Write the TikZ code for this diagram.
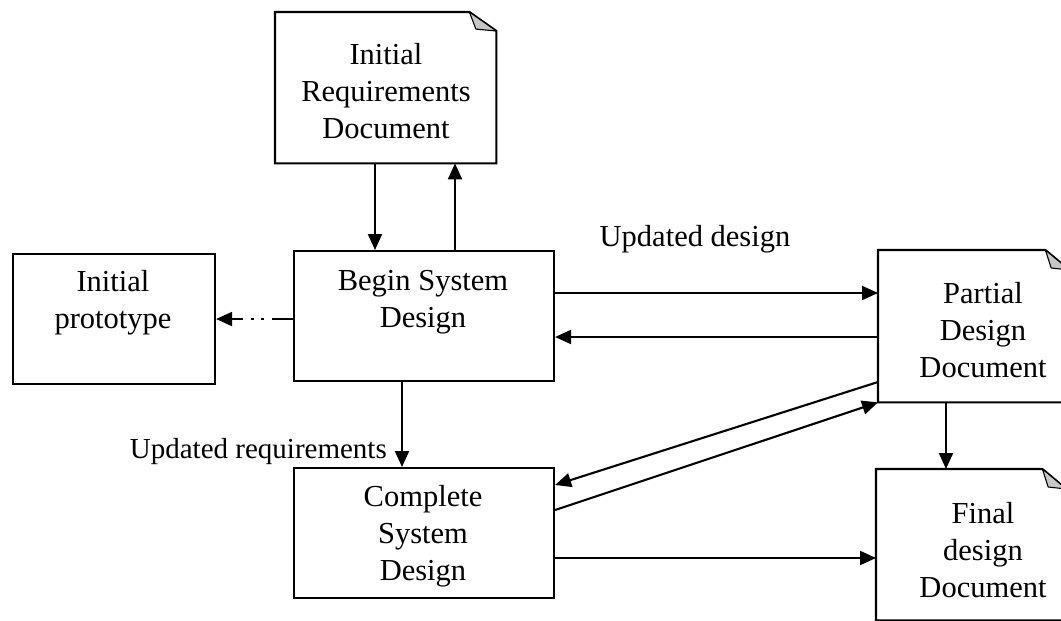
\documentclass[tikz,border=0pt]{standalone}
\usepackage{fontspec}
\setmainfont{Liberation Serif}
\usetikzlibrary{arrows.meta,calc}
\begin{document}
\begin{tikzpicture}[x=1pt,y=-1pt,
  frame/.style={draw, line width=2.1pt, inner sep=0pt, anchor=north west},
  page/.style={inner sep=0pt, anchor=north west},
  txt/.style={font=\fontsize{30.5}{37}\selectfont, align=center, inner sep=0pt, anchor=base},
  lbl/.style={inner sep=0pt, anchor=base},
  outline/.style={line width=2.1pt, line join=miter},
  fold/.style={fill=black!22, draw, line width=1.1pt, line join=round},
  arr/.style={line width=2.1pt, -{Triangle[length=16pt,width=14pt]}},
  dotarr/.style={arr, dash pattern=on 21pt off 8pt on 3pt off 7pt on 3pt off 8pt}]
\useasboundingbox (0,0) rectangle (1061,621);

% plain boxes
\node[frame, minimum width=202pt, minimum height=130pt] (ip)  at (12,253)  {};
\node[frame, minimum width=260pt, minimum height=130pt] (bsd) at (293,250) {};
\node[frame, minimum width=260pt, minimum height=130pt] (csd) at (293,467) {};

% documents (page with a folded corner)
\node[page, minimum width=221pt, minimum height=151pt] (ird) at (275,12)  {};
\node[page, minimum width=191pt, minimum height=152pt] (pdd) at (878,250) {};
\node[page, minimum width=190pt, minimum height=151pt] (fdd) at (876,469) {};

\foreach \d/\fw/\fh in {ird/27/19, pdd/24/20, fdd/24/20}{
  \draw[outline] (\d.north west) -- ([xshift=-\fw pt]\d.north east)
    -- ([yshift=-\fh pt]\d.north east) -- (\d.south east) -- (\d.south west) -- cycle;
  \draw[fold] ([xshift=-\fw pt]\d.north east)
    -- ([xshift=-0.76*\fw pt, yshift=-0.9*\fh pt]\d.north east)
    -- ([yshift=-\fh pt]\d.north east) -- cycle;
}

% texts (placed by the baseline of their last line)
\node[txt] (irdtext) at (386,138) {Initial\\Requirements\\Document};
\node[txt] (iptext)  at (113,328) {Initial\\prototype};
\node[txt] (bsdtext) at (423,327) {Begin System\\Design};
\node[txt] (csdtext) at (423,580) {Complete\\System\\Design};
\node[txt] (pddtext) at (983,377) {Partial\\Design\\Document};
\node[txt] (fddtext) at (983,597) {Final\\design\\Document};

\node[lbl, font=\fontsize{30.5}{37}\selectfont] (ldesign) at (695,246) {Updated design};
\node[lbl, font=\fontsize{29}{35}\selectfont, anchor=base east] (lreq) at (387,458) {Updated requirements};

% connectors
\draw[arr] ([xshift=100pt]ird.south west) -- ([xshift=100pt]ird.south west |- bsd.north);
\draw[arr] ([xshift=162pt]bsd.north west) -- ([xshift=162pt]bsd.north west |- ird.south);
\draw[dotarr] ([yshift=-3pt]bsd.west) -- ([yshift=-3pt]bsd.west -| ip.east);
\draw[arr] ([yshift=-43pt]bsd.north east) -- ([yshift=-43pt]bsd.north east -| pdd.west);
\draw[arr] ([yshift=-87pt]pdd.north west) -- ([yshift=-87pt]pdd.north west -| bsd.east);
\draw[arr] ([xshift=109pt]bsd.south west) -- ([xshift=109pt]bsd.south west |- csd.north);
\draw[arr] ([yshift=-132pt]pdd.north west) -- ([yshift=-18pt]csd.north east);
\draw[arr] ([yshift=-43pt]csd.north east) -- (pdd.south west);
\draw[arr] ([xshift=68pt]pdd.south west) -- ([xshift=68pt]pdd.south west |- fdd.north);
\draw[arr] ([yshift=-91pt]csd.north east) -- ([yshift=-91pt]csd.north east -| fdd.west);
\end{tikzpicture}
\end{document}
